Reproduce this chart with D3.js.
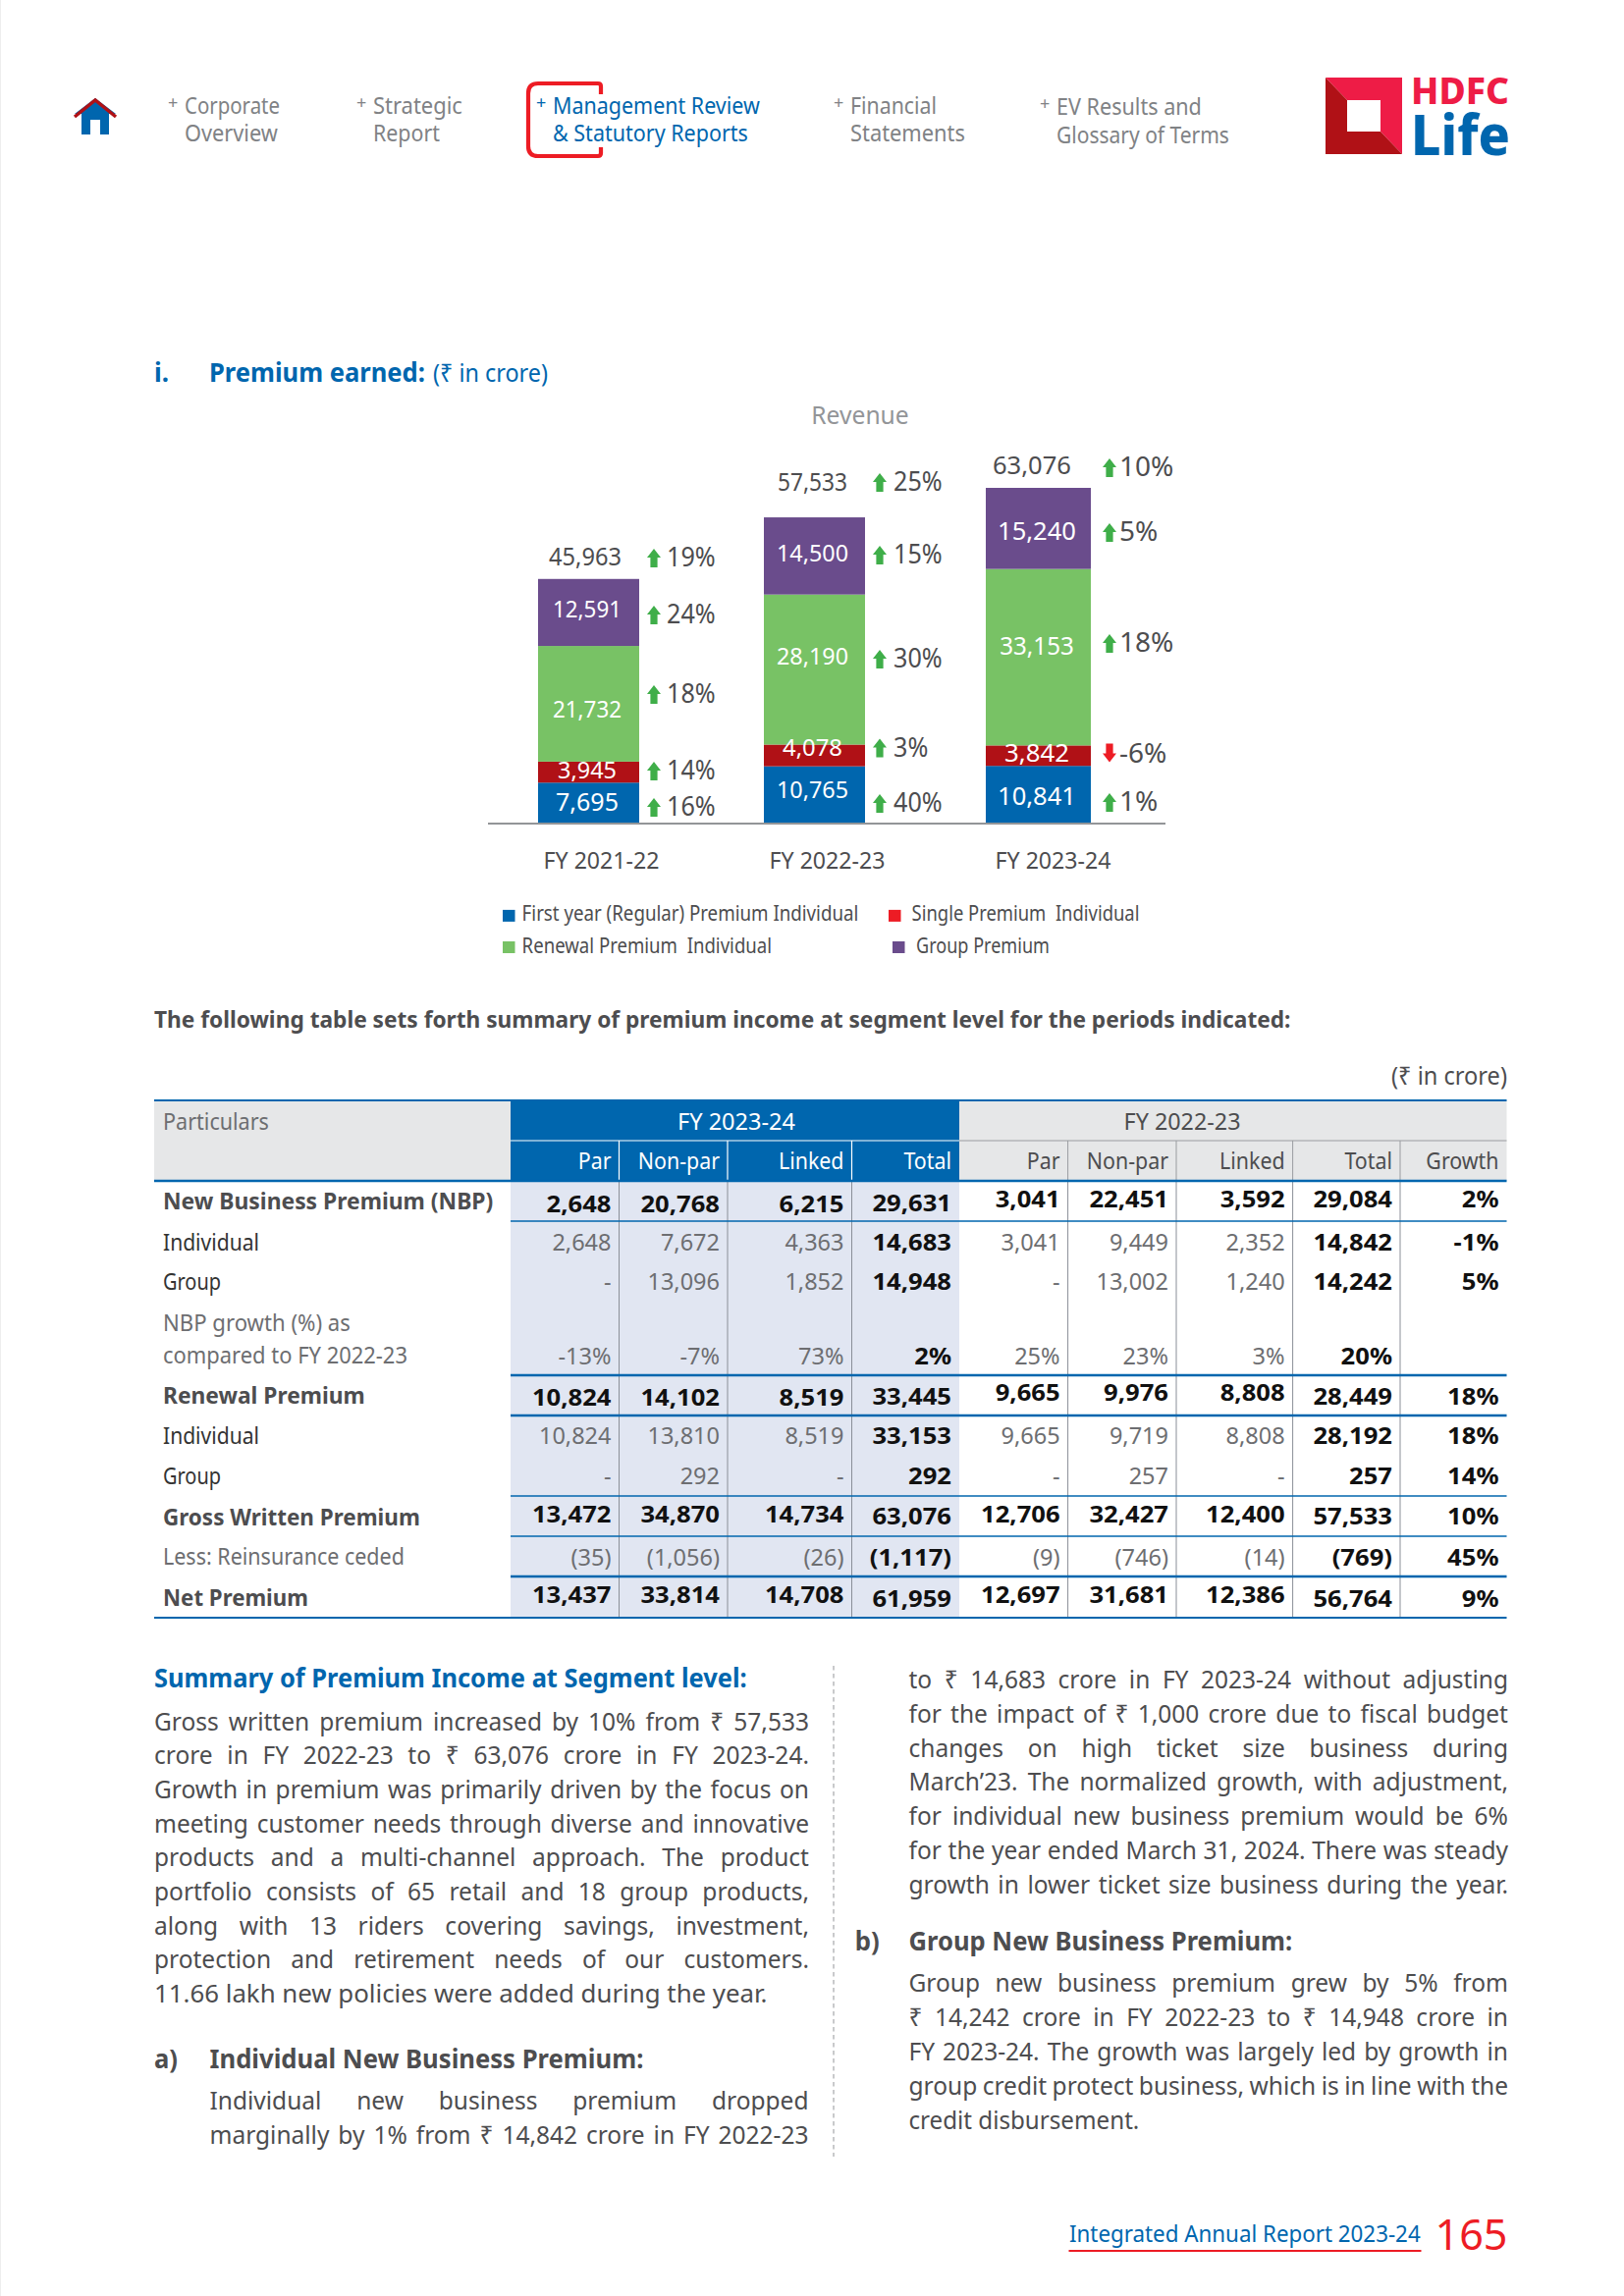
<!DOCTYPE html>
<html><head><meta charset="utf-8">
<script src="https://cdn.jsdelivr.net/npm/d3@7"></script>
<style>html,body{margin:0;padding:0;background:#fff}svg{display:block}text{font-family:"Noto Sans",sans-serif}</style>
</head><body><svg id="page" width="1654" height="2339"></svg>
<script>
// ---------- chart data ----------
const categories = ["FY 2021-22","FY 2022-23","FY 2023-24"];
const firstYear = [7695,10765,10841];
const singlePremium = [3945,4078,3842];
const renewal = [21732,28190,33153];
const groupPremium = [12591,14500,15240];
const totals = [45963,57533,63076];
const growthTotal = [19,25,10];
const growthGroup = [24,15,5];
const growthRenewal = [18,30,18];
const growthSingle = [14,3,-6];
const growthFirst = [16,40,1];
const legendLabels = ["First year (Regular) Premium Individual","Single Premium  Individual","Renewal Premium  Individual","Group Premium"];
// ---------- table data ----------
const rowLabels = ["New Business Premium (NBP)","Individual","Group","compared to FY 2022-23","Renewal Premium","Individual","Group","Gross Written Premium","Less: Reinsurance ceded","Net Premium"];
const par24 = ["2,648","2,648","-","-13%","10,824","10,824","-","13,472","(35)","13,437"];
const nonPar24 = ["20,768","7,672","13,096","-7%","14,102","13,810","292","34,870","(1,056)","33,814"];
const linked24 = ["6,215","4,363","1,852","73%","8,519","8,519","-","14,734","(26)","14,708"];
const total24 = ["29,631","14,683","14,948","2%","33,445","33,153","292","63,076","(1,117)","61,959"];
const par23 = ["3,041","3,041","-","25%","9,665","9,665","-","12,706","(9)","12,697"];
const nonPar23 = ["22,451","9,449","13,002","23%","9,976","9,719","257","32,427","(746)","31,681"];
const linked23 = ["3,592","2,352","1,240","3%","8,808","8,808","-","12,400","(14)","12,386"];
const total23 = ["29,084","14,842","14,242","20%","28,449","28,192","257","57,533","(769)","56,764"];
const growthCol = ["2%","-1%","5%","","18%","18%","14%","10%","45%","9%"];
const subHeaders = ["Par","Non-par","Linked","Total","Par","Non-par","Linked","Total","Growth"];
// ---------- body text ----------
const summaryLines = ["Gross written premium increased by 10% from ₹ 57,533","crore in FY 2022-23 to ₹ 63,076 crore in FY 2023-24.","Growth in premium was primarily driven by the focus on","meeting customer needs through diverse and innovative","products and a multi-channel approach. The product","portfolio consists of 65 retail and 18 group products,","along with 13 riders covering savings, investment,","protection and retirement needs of our customers."];
const summaryLast = "11.66 lakh new policies were added during the year.";
const indivLeft = ["Individual new business premium dropped","marginally by 1% from ₹ 14,842 crore in FY 2022-23"];
const indivRight = ["to ₹ 14,683 crore in FY 2023-24 without adjusting","for the impact of ₹ 1,000 crore due to fiscal budget","changes on high ticket size business during","March’23. The normalized growth, with adjustment,","for individual new business premium would be 6%","for the year ended March 31, 2024. There was steady","growth in lower ticket size business during the year."];
const groupLines = ["Group new business premium grew by 5% from","₹ 14,242 crore in FY 2022-23 to ₹ 14,948 crore in","FY 2023-24. The growth was largely led by growth in","group credit protect business, which is in line with the"];
const groupLast = "credit disbursement.";

// ---------- palette ----------
const BLUE="#0066ae", DARKRED="#b01116", RED="#ed1c24", GREEN="#78c265", PURPLE="#6a4c8c", GREY="#4d4d4f", LIGHT="#808285";
const svg = d3.select("#page");
svg.append("rect").attr("x",0).attr("y",0).attr("width",1).attr("height",2339).attr("fill","#eeeeee");

function T(x,y,s,o={}){
  const t = svg.append("text").text(s).attr("font-size",o.size||23).attr("font-weight",o.weight||400)
    .attr("fill",o.fill||GREY).attr("text-anchor",o.anchor||"start").style("white-space","pre");
  const n = t.node().getComputedTextLength();
  let f = o.f||1;
  if(o.w) f = o.w/n;
  if(o.just){
    const sp = (s.match(/ /g)||[]).length;
    // keep the word gaps from collapsing: squeeze the glyphs further on very tight lines
    const minWs = -3.2;
    if((o.just/f-n)/sp < minWs) f = o.just/(n+minWs*sp);
    t.attr("word-spacing",((o.just/f)-n)/sp);
  }
  t.attr("transform",`translate(${x},${y}) scale(${f},1)`);
  return t;
}

// ---------- page header ----------
svg.append("path").attr("d","M83 137V116H76L97 100L118 116H111V137H102V122H92V137Z").attr("fill",BLUE);
svg.append("path").attr("d","M76 119L97 102L118 119").attr("fill","none").attr("stroke",DARKRED).attr("stroke-width",3.5);
const nav=[[176,188,115.7,"Corporate",97,"Overview",95,LIGHT],[368,380,115.7,"Strategic",91,"Report",68,LIGHT],
 [551,563,115.7,"Management Review",211,"& Statutory Reports",199,BLUE],[854,866,115.7,"Financial",88,"Statements",117,LIGHT],
 [1064,1076,117,"EV Results and",148,"Glossary of Terms",176,LIGHT]];
nav.forEach(n=>{
  T(n[0]-5,n[2]-5,"+",{size:18,fill:n[7],anchor:"start"});
  T(n[1],n[2],n[3],{size:23,fill:n[7],w:n[4]});
  T(n[1],n[2]+28.5,n[5],{size:23,fill:n[7],w:n[6]});
});
svg.append("path").attr("d","M612 96V88Q612 85 609 85H548Q538 85 538 95V149Q538 159 548 159H609Q612 159 612 156V150").attr("fill","none").attr("stroke",RED).attr("stroke-width",4.2);
svg.append("path").attr("d","M1350 79H1428V157L1406 134V102H1372Z").attr("fill","#ee1c46");
svg.append("path").attr("d","M1350 79L1372 102V134H1406L1428 157H1350Z").attr("fill",DARKRED);
T(1437,106,"HDFC",{size:37,weight:800,fill:"#ee1c46",w:100});
T(1437,158,"Life",{size:57,weight:800,fill:BLUE,w:101});

// ---------- section heading ----------
T(157,389,"i.",{size:26,weight:700,fill:BLUE,w:15});
T(213,389,"Premium earned:",{size:26,weight:700,fill:BLUE,w:220});
T(441,389,"(₹ in crore)",{size:26,fill:BLUE,w:117});

// ---------- stacked bars ----------
const y = d3.scaleLinear().domain([0,d3.max(totals)]).range([839,497]);
const barLeft = d3.scaleOrdinal().domain(categories).range([548,778,1004]);
const barWidth = d3.scaleOrdinal().domain(categories).range([103,103,107]);
const stackRows = categories.map((c,i)=>({cat:c,first:firstYear[i],single:singlePremium[i],renewal:renewal[i],group:groupPremium[i]}));
const keys=["first","single","renewal","group"];
const colour=d3.scaleOrdinal().domain(keys).range([BLUE,DARKRED,GREEN,PURPLE]);
const stacked=d3.stack().keys(keys)(stackRows);
svg.append("g").selectAll("g").data(stacked).join("g").attr("fill",d=>colour(d.key))
 .selectAll("rect").data(d=>d).join("rect")
 .attr("x",d=>barLeft(d.data.cat)).attr("width",d=>barWidth(d.data.cat))
 .attr("y",d=>y(d[1])).attr("height",d=>y(d[0])-y(d[1]));
svg.append("line").attr("x1",497).attr("x2",1187).attr("y1",y(0)).attr("y2",y(0)).attr("stroke","#939598").attr("stroke-width",2);

T(876,431.5,"Revenue",{size:26,fill:"#939598",anchor:"middle",w:99.5});

// axis with the year labels
const axisX=d3.scaleOrdinal().domain(categories).range([612,842,1072]);
const axisG=svg.append("g").attr("transform","translate(0,866)").call(d3.axisBottom(axisX).tickSize(0).tickPadding(0));
axisG.select(".domain").remove();
axisG.selectAll("text").attr("font-size",24).attr("fill",GREY).attr("y",0).attr("dy",19).attr("font-family",'"Noto Sans"')
  .each(function(){const n=this.getComputedTextLength();const f=118/n;
    d3.select(this).attr("transform",`scale(${f},1)`);});

// segment value labels
const fmt=d3.format(",");
const centre=[598,827.5,1056];
const valueLayout={
 first:{y:[826,813,820],w:[64,73,80],s:[26,24,26]},
 single:{y:[793,769.6,776],w:[60,61,66],s:[24,24,26]},
 renewal:{y:[731,677,667],w:[70,73,75.5],s:[24,24,25]},
 group:{y:[629,571.5,550],w:[70,73,80],s:[24,24,26]}
};
const seriesValues={first:firstYear,single:singlePremium,renewal:renewal,group:groupPremium};
keys.forEach(k=>seriesValues[k].forEach((v,i)=>{
  const L=valueLayout[k];
  T(centre[i],L.y[i],fmt(v),{size:L.s[i],fill:"#fff",anchor:"middle",w:L.w[i]});
}));
// totals
const totalX=[559,792,1011], totalY=[576,500,483], totalW=[74,71,80];
totals.forEach((v,i)=>T(totalX[i],totalY[i],fmt(v),{size:25,w:totalW[i]}));
// growth labels and arrows
const growthX=[666,896,1130], growthTextX=[679,910,1140], growthSize=[26.5,26.5,28], growthF=[.95,.95,1];
const growthSets=[[growthTotal,[576,499,484]],[growthGroup,[634,573,550]],[growthRenewal,[715,679,663]],[growthSingle,[793,769.6,775.5]],[growthFirst,[830,826,825]]];
growthSets.forEach(([vals,ys])=>vals.forEach((v,i)=>{
  const yy=ys[i], cx=growthX[i];
  if(v>=0) svg.append("path").attr("d",`M${cx} ${yy-17}l7 9h-3.4v10h-7.2v-10h-3.4z`).attr("fill","#3fae49");
  else svg.append("path").attr("d",`M${cx} ${yy+1}l7 -9h-3.4v-10h-7.2v10h-3.4z`).attr("fill",RED);
  T(growthTextX[i],yy+1,v+"%",{size:growthSize[i],f:growthF[i]});
}));
// legend
const legend=[[512,938.4,531.6,343,BLUE],[905,938.4,928.6,232,RED],[512,970.5,531.6,254.5,GREEN],[909,970.5,933,136,PURPLE]];
legendLabels.forEach((l,i)=>{
  const L=legend[i];
  svg.append("rect").attr("x",L[0]).attr("y",L[1]-11.5).attr("width",12.5).attr("height",12).attr("fill",L[4]);
  T(L[2],L[1],l,{size:21,w:L[3]});
});

// ---------- table ----------
T(157,1047,"The following table sets forth summary of premium income at segment level for the periods indicated:",{size:24,weight:700,w:1158});
T(1535,1105,"(₹ in crore)",{size:25,anchor:"end",w:118});
const colEdges=[520,630.5,741,867.5,977,1087.6,1198,1316.6,1426,1534.5];
const colX=d3.scaleOrdinal().domain(d3.range(9)).range(colEdges.slice(1));
const colFill=(x,w,h,yy,c)=>svg.append("rect").attr("x",x).attr("y",yy).attr("width",w).attr("height",h).attr("fill",c);
colFill(157,363,82,1121,"#e6e7e8");
colFill(520,457,82,1121,BLUE);
colFill(977,557.5,82,1121,"#e6e7e8");
colFill(520,457,445,1203,"#e1e6f2");
// verticals
[630.5,741,867.5,1087.6,1198,1316.6,1426].forEach(x=>{
  svg.append("line").attr("x1",x).attr("x2",x).attr("y1",1203).attr("y2",1647).attr("stroke","#8a8f98").attr("stroke-width",1);
});
[630.5,741,867.5].forEach(x=>svg.append("line").attr("x1",x).attr("x2",x).attr("y1",1162).attr("y2",1203).attr("stroke","#fff").attr("stroke-width",1.2));
[1087.6,1198,1316.6,1426].forEach(x=>svg.append("line").attr("x1",x).attr("x2",x).attr("y1",1162).attr("y2",1203).attr("stroke","#9a9ca0").attr("stroke-width",1));
svg.append("line").attr("x1",520).attr("x2",977).attr("y1",1162).attr("y2",1162).attr("stroke","#fff").attr("stroke-width",1.2);
svg.append("line").attr("x1",977).attr("x2",1534.5).attr("y1",1162).attr("y2",1162).attr("stroke","#9a9ca0").attr("stroke-width",1);
// horizontals
[[157,1121,2],[157,1203,2.4],[520,1244,1.4],[520,1401,2.4],[520,1442,2.4],[520,1524,1.3],[520,1565,1.3],[520,1606,2.4],[157,1648,2.2]].forEach(([x,yy,sw])=>{
  svg.append("line").attr("x1",x).attr("x2",1534.5).attr("y1",yy).attr("y2",yy).attr("stroke",BLUE).attr("stroke-width",sw);
});
// header texts
T(166,1150.5,"Particulars",{size:23,fill:"#6d6e71",w:108});
T(750,1150.5,"FY 2023-24",{size:23,fill:"#fff",anchor:"middle",w:120});
T(1204,1150.5,"FY 2022-23",{size:23,fill:GREY,anchor:"middle",w:119});
subHeaders.forEach((h,i)=>T(colX(i)-8,1191,h,{size:23,fill:i<4?"#fff":GREY,anchor:"end",f:0.93}));
// row labels
const labelY=[1232,1273.5,1314,1389,1430,1471,1512,1553.5,1594,1636];
const labelW=[336.5,98,59,249,206,98,59,262,246,148];
const boldRows=new Set([0,4,7,9]);
rowLabels.forEach((l,i)=>T(166,labelY[i],l,{size:23,weight:boldRows.has(i)?700:400,fill:boldRows.has(i)?GREY:(i===3||i===8?"#6d6e71":"#333"),w:labelW[i]}));
T(166,1355.5,"NBP growth (%) as",{size:23,fill:"#6d6e71",w:191});
// values
const rowBase=[1234.6,1274,1314,1389.5,1431.5,1471,1512,1551,1595,1633.4];
const rowBaseTotal=[1234,1274,1314,1389.5,1431,1471,1512,1553,1595,1636.5];
const cols=[par24,nonPar24,linked24,total24,par23,nonPar23,linked23,total23,growthCol];
cols.forEach((c,j)=>c.forEach((v,r)=>{
  if(!v) return;
  const isTot=(j===3||j>=7), bold=isTot||boldRows.has(r);
  let yy=isTot?rowBaseTotal[r]:rowBase[r];
  if(!isTot&&j>=4&&r===0) yy=1230; 
  if(!isTot&&j>=4&&r===4) yy=1427;
  if(j>=7&&r===0) yy=1230;
  T(colX(j)-8,yy,v,{size:23.5,weight:bold?700:400,fill:bold?"#111":"#6d6e71",anchor:"end",f:bold?1.09:1});
}));

// ---------- body text ----------
T(157,1719,"Summary of Premium Income at Segment level:",{size:26,weight:700,fill:BLUE,w:604});
const lh=34.7;
const bodyF=0.98;
summaryLines.forEach((l,i)=>T(157,1762.5+i*lh,l,{size:25,f:bodyF,just:667}));
T(157,1762.5+8*lh,summaryLast,{size:25,w:625});
T(157,2107,"a)",{size:26,weight:700,w:24});
T(213.5,2107,"Individual New Business Premium:",{size:26,weight:700,w:442});
indivLeft.forEach((l,i)=>T(213.5,2148.6+i*35,l,{size:25,f:bodyF,just:610}));
indivRight.forEach((l,i)=>T(925.5,1720+i*34.8,l,{size:25,f:bodyF,just:610.5}));
T(870.7,1987,"b)",{size:26,weight:700,w:25});
T(925.5,1987,"Group New Business Premium:",{size:26,weight:700,w:391});
groupLines.forEach((l,i)=>T(925.5,2029+i*34.9,l,{size:25,f:bodyF,just:610.5}));
T(925.5,2168.5,groupLast,{size:25,w:235});
svg.append("line").attr("x1",849).attr("x2",849).attr("y1",1697).attr("y2",2197).attr("stroke","#939598").attr("stroke-width",1).attr("stroke-dasharray","4.5 3.5");

// ---------- footer ----------
T(1089,2284,"Integrated Annual Report 2023-24",{size:23,fill:BLUE,w:358});
svg.append("line").attr("x1",1088.5).attr("x2",1447.5).attr("y1",2293).attr("y2",2293).attr("stroke",RED).attr("stroke-width",2.2);
T(1461.5,2292,"165",{size:43,fill:RED,w:74});
</script></body></html>
